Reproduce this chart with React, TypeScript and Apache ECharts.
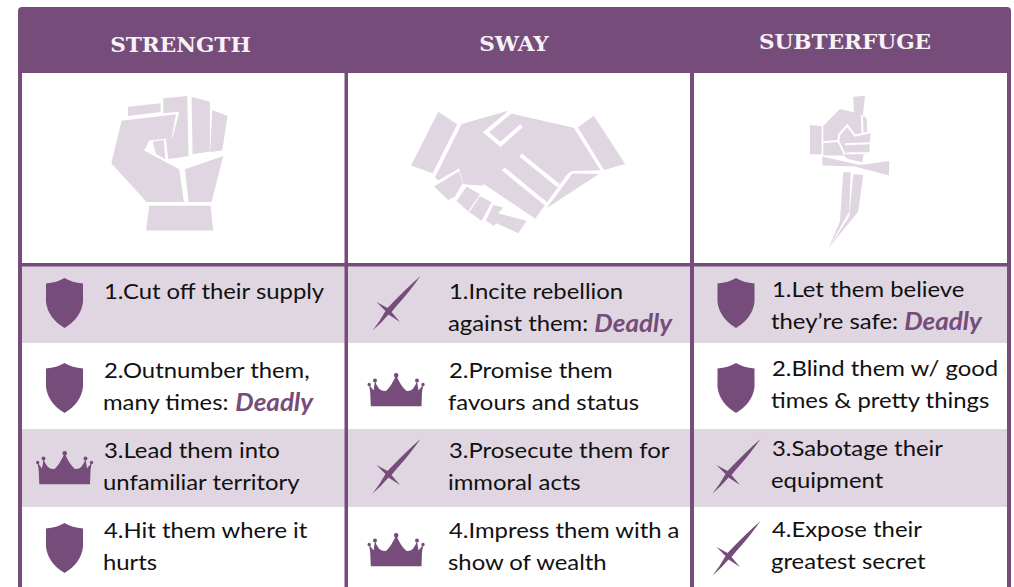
import React, { useEffect, useRef } from "react";
import * as echarts from "echarts";

const headers = ["STRENGTH", "SWAY", "SUBTERFUGE"];

const strengthTips = [
  ["1.Cut off their supply", ""],
  ["2.Outnumber them,", "many times: "],
  ["3.Lead them into", "unfamiliar territory"],
  ["4.Hit them where it", "hurts"],
];
const swayTips = [
  ["1.Incite rebellion", "against them: "],
  ["2.Promise them", "favours and status"],
  ["3.Prosecute them for", "immoral acts"],
  ["4.Impress them with a", "show of wealth"],
];
const subterfugeTips = [
  ["1.Let them believe", "they\u2019re safe: "],
  ["2.Blind them w/ good", "times & pretty things"],
  ["3.Sabotage their", "equipment"],
  ["4.Expose their", "greatest secret"],
];
const strengthIcons = ["shield", "shield", "crown", "shield"];
const swayIcons = ["sword", "crown", "sword", "crown"];
const subterfugeIcons = ["shield", "shield", "sword", "sword"];
const strengthDeadly = [false, true, false, false];
const swayDeadly = [true, false, false, false];
const subterfugeDeadly = [true, false, false, false];
const deadlyWord = "Deadly";

const PURPLE = "#754c7a";
const LIGHT = "#e0d6e2";
const INK = "#111111";
const BODY_FONT = "Lato";

const shieldPath = "M18.5 0 Q11 4.5 0 5.5 L0 24 Q2 40 18.5 50 Q35 40 37 24 L37 5.5 Q26 4.5 18.5 0Z";
const crownPath =
  "M3.3 33.3 L54 33.3 L54.5 19 L55.8 11.5 L51 17.5 L49.5 8 Q46 19 39 18 Q33 13 28.7 2 Q24 13 18.5 18 Q11 19 7.5 8 L6 17.5 L1.5 11.5 L2.7 19 Z" +
  " M0 11.5 a1.7 1.7 0 1 0 3.4 0 a1.7 1.7 0 1 0 -3.4 0Z M53.8 11.5 a1.7 1.7 0 1 0 3.4 0 a1.7 1.7 0 1 0 -3.4 0Z" +
  " M5.5 7.5 a2 2 0 1 0 4 0 a2 2 0 1 0 -4 0Z M47.5 7.5 a2 2 0 1 0 4 0 a2 2 0 1 0 -4 0Z M26.4 2.3 a2.3 2.3 0 1 0 4.6 0 a2.3 2.3 0 1 0 -4.6 0Z";
const swordPath = "M48 0 Q36 17 24 30 L19 36 L27.5 46 L16 38.5 Q8 48 0 54.5 Q7 46 13 35 L4 26 L15 32 Q32 14 48 0Z";

const fistPieces = [
  [[114, 80], [212, 70], [212, 96], [114, 108]],
  [[95, 122], [258, 103], [245, 175], [178, 182], [163, 212], [268, 268], [282, 366], [170, 366], [64, 250]],
  [[188, 185], [222, 180], [226, 238], [198, 222]],
  [[220, 55], [292, 48], [296, 228], [235, 238], [228, 178], [248, 172], [268, 95], [220, 100]],
  [[305, 50], [360, 65], [360, 215], [308, 223]],
  [[367, 90], [413, 108], [397, 212], [361, 216]],
  [[285, 268], [400, 228], [365, 366], [296, 366]],
  [[178, 378], [362, 378], [370, 452], [168, 452]],
];
const shakePieces = [
  [[115, 50], [172, 88], [98, 235], [33, 212]],
  [[582, 62], [676, 207], [613, 225], [534, 97]],
  [[185, 87], [322, 48], [340, 57], [522, 98], [602, 226], [518, 228], [505, 235], [403, 375], [245, 272], [190, 268], [178, 220], [115, 257], [105, 248]],
  [[518, 236], [597, 237], [440, 340]],
  [[102, 275], [178, 228], [188, 265], [165, 305], [145, 315]],
  [[170, 318], [200, 275], [240, 298], [205, 350]],
  [[208, 352], [240, 303], [275, 322], [245, 378]],
  [[258, 378], [280, 330], [310, 338], [295, 355], [380, 378], [355, 415], [290, 385], [282, 393]],
];
const shakeCuts = [
  [[332, 50], [258, 112], [302, 148], [365, 92]],
  [[362, 180], [476, 272]],
  [[310, 222], [440, 328]],
  [[248, 272], [405, 378]],
];
const daggerPieces = [
  [[190, 35], [225, 32], [219, 92], [192, 85]],
  [[60, 120], [95, 124], [95, 208], [60, 208]],
  [[100, 122], [150, 72], [212, 86], [230, 100], [232, 140], [242, 142], [238, 205], [220, 210], [218, 232], [175, 222], [160, 212], [100, 212]],
  [[97, 215], [210, 240], [298, 228], [297, 272], [195, 245], [97, 242]],
  [[160, 262], [182, 262], [178, 380], [115, 490], [150, 410]],
  [[190, 268], [220, 270], [205, 380], [115, 490], [178, 395]],
];
const daggerCuts = [
  [[97, 172], [145, 168], [165, 210]],
  [[145, 168], [148, 148], [172, 122], [195, 152], [240, 142]],
  [[165, 178], [240, 175]],
  [[170, 205], [238, 205]],
  [[216, 90], [218, 150]],
];

echarts.graphic.registerShape("shieldIcon", echarts.graphic.extendPath(shieldPath, {}));
echarts.graphic.registerShape("crownIcon", echarts.graphic.extendPath(crownPath, {}));
echarts.graphic.registerShape("swordIcon", echarts.graphic.extendPath(swordPath, {}));

const columns = [
  { tips: strengthTips, icons: strengthIcons, deadly: strengthDeadly, left: 22, right: 345, cx: 180.5, hy: 45, tx: 104, cx2: 64.5, base: [299, 378, 458, 538] },
  { tips: swayTips, icons: swayIcons, deadly: swayDeadly, left: 348, right: 690, cx: 514, hy: 44, tx: 449, cx2: 396, base: [299, 378, 458, 538] },
  { tips: subterfugeTips, icons: subterfugeIcons, deadly: subterfugeDeadly, left: 694, right: 1007, cx: 845, hy: 42, tx: 772, cx2: 736, base: [297, 376, 456, 537] },
];
const bandTop = [266, 429];
const bandBottom = [343, 507];

function iconEl(kind: string, cx: number, rowTop: number) {
  if (kind === "shield") {
    return { type: "shieldIcon", x: cx - 18.5, y: rowTop + 12, style: { fill: PURPLE } };
  }
  if (kind === "crown") {
    return { type: "crownIcon", x: cx - 28.5, y: rowTop + 22, style: { fill: PURPLE } };
  }
  return { type: "swordIcon", x: cx - 23.5, y: rowTop + 10, style: { fill: PURPLE } };
}

function buildGraphic() {
  const els: any[] = [];
  els.push({ type: "rect", shape: { x: 0, y: 0, width: 1014, height: 587 }, style: { fill: "#fff" } });
  columns.forEach((c) => {
    [0, 1].forEach((b) => {
      els.push({ type: "rect", shape: { x: c.left, y: bandTop[b], width: c.right - c.left, height: bandBottom[b] - bandTop[b] }, style: { fill: LIGHT } });
    });
  });
  els.push({ type: "rect", shape: { x: 18, y: 7, width: 993, height: 66, r: [4, 4, 0, 0] }, style: { fill: PURPLE } });
  [[18, 4], [344.5, 3.5], [690, 4], [1007, 4]].forEach(([x, w]) => {
    els.push({ type: "rect", shape: { x, y: 70, width: w, height: 517 }, style: { fill: PURPLE } });
  });
  els.push({ type: "rect", shape: { x: 18, y: 263, width: 993, height: 3.5 }, style: { fill: PURPLE } });

  headers.forEach((h, i) => {
    els.push({
      type: "text", x: columns[i].cx, y: columns[i].hy, scaleX: 1.08,
      style: {
        text: h, fill: "#f6f2f6", fontFamily: "'DejaVu Serif'", fontWeight: "bold", fontSize: 20,
        align: "center", verticalAlign: "middle",
      },
    });
  });

  const piecesGroup = (pieces: number[][][], cuts: number[][][], cutWidth: number, x: number, y: number) => ({
    type: "group", x, y, scaleX: 1 / 3, scaleY: 1 / 3,
    children: [
      ...pieces.map((points) => ({ type: "polygon", shape: { points }, style: { fill: LIGHT } })),
      ...cuts.map((points) => ({ type: "polyline", shape: { points }, style: { stroke: "#fff", fill: "none", lineWidth: cutWidth } })),
    ],
  });
  els.push(piecesGroup(fistPieces, [], 0, 90, 80));
  els.push(piecesGroup(shakePieces, shakeCuts, 12, 400, 95));
  els.push(piecesGroup(daggerPieces, daggerCuts, 6, 790, 85));

  const textScale = 1.085;
  columns.forEach((c) => {
    c.tips.forEach((lines, r) => {
      const rowTop = [266, 351, 429, 511][r];
      els.push(iconEl(c.icons[r], c.cx2, rowTop));
      const b = c.base[r];
      els.push({
        type: "text", x: c.tx, y: b - 9, scaleX: textScale,
        style: { text: lines[0], fill: INK, font: `22px ${BODY_FONT}`, verticalAlign: "middle" },
      });
      if (lines[1]) {
        els.push({
          type: "text", x: c.tx - 1, y: b + 23, scaleX: textScale,
          style: {
            text: c.deadly[r] ? `${lines[1]}{d|${deadlyWord}}` : lines[1],
            fill: INK, font: `22px ${BODY_FONT}`, verticalAlign: "middle",
            rich: { d: { fill: PURPLE, font: `italic bold 24px ${BODY_FONT}` } },
          },
        });
      }
    });
  });
  return els;
}

export default function App() {
  const ref = useRef<HTMLDivElement>(null);
  useEffect(() => {
    document.body.style.margin = "0";
    const chart = echarts.init(ref.current!, undefined, { renderer: "svg" });
    chart.setOption({ animation: false, backgroundColor: "#fff", graphic: { elements: buildGraphic() } });
    return () => chart.dispose();
  }, []);
  return <div ref={ref} style={{ width: 1014, height: 587 }} />;
}
